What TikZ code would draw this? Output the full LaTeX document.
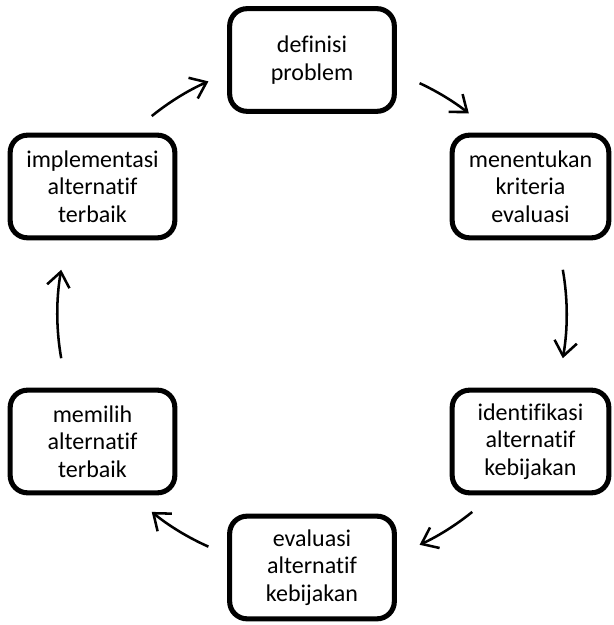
\documentclass[tikz,border=0pt]{standalone}
\usepackage{fontspec}
\setmainfont{Carlito}[Ligatures={NoCommon,NoContextual}]
\usetikzlibrary{arrows.meta}

\begin{document}
\begin{tikzpicture}[x=0.75pt, y=0.75pt,
    stepbox/.style={draw=black, line width=3.8pt, rounded corners=13pt,
      minimum width=123.5pt, minimum height=77pt, inner sep=0pt,
      align=center, font=\fontsize{18}{20.5}\selectfont},
    cyclearrow/.style={line width=1.9pt,
      -{Straight Barb[length=11pt, width=17pt]}}]
      \useasboundingbox (0,0) rectangle (614,625);
      %% Steps of the policy cycle
      \node[stepbox] (definisi) at (312,565) {definisi\\problem};
      \node[stepbox, minimum width=117.5pt] (kriteria) at (530.5,438.5) {menentukan\\kriteria\\evaluasi};
      \node[stepbox, minimum width=117.5pt] (identifikasi) at (530.5,183.5) {identifikasi\\alternatif\\kebijakan};
      \node[stepbox] (evaluasi) at (312,57.5) {evaluasi\\alternatif\\kebijakan};
      \node[stepbox] (memilih) at (92.5,183.5) {memilih\\alternatif\\terbaik};
      \node[stepbox] (implementasi) at (92.5,438.5) {implementasi\\alternatif\\terbaik};
      %% Arrows on a circle round the middle
      \coordinate (ctr) at (312,311);
      \foreach \a/\b in {65/52, 10/-10, -51/-65, -114/-129, -170/-190, 129/114}
        \draw[cyclearrow] ([shift={(\a:191pt)}]ctr) arc[start angle=\a, end angle=\b, radius=191pt];
    \end{tikzpicture}
\end{document}
